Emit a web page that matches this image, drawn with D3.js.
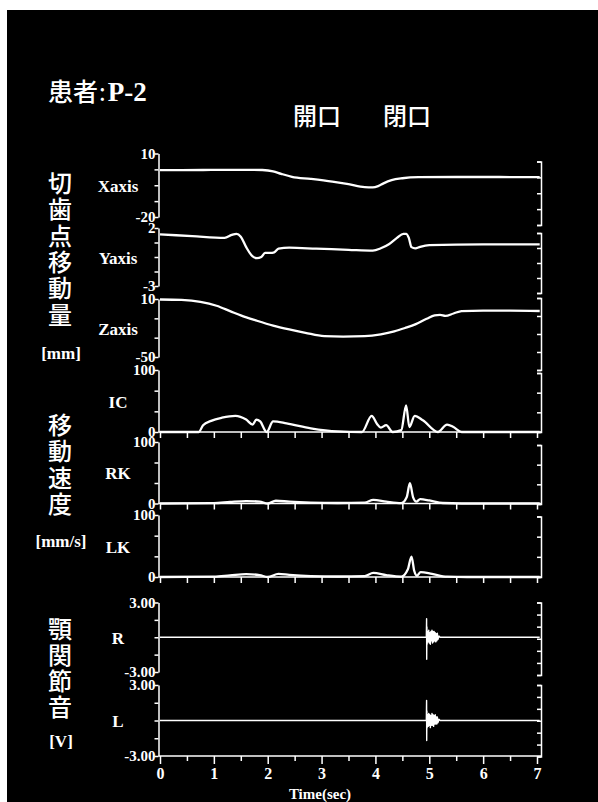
<!DOCTYPE html>
<html>
<head>
<meta charset="utf-8">
<script src="https://cdn.jsdelivr.net/npm/d3@7/dist/d3.min.js"></script>
<style>
  html, body { margin: 0; padding: 0; background: #fff; }
  svg { display: block; }
</style>
</head>
<body>
<svg id="chart" width="598" height="802"></svg>
<script>
// ---- data: time (s) and value per channel ----
const timeTicks = [0, 1, 2, 3, 4, 5, 6, 7];

// incisal point displacement [mm]
const xaxisT = [0, 0.8, 1.6, 1.9, 2.1, 2.25, 2.45, 2.8, 3.2, 3.5, 3.8, 3.95, 4.05, 4.15, 4.3, 4.5, 4.8, 5.5, 6.3, 7.05];
const xaxisV = [2.1, 2.2, 2.3, 2.2, 1.6, 0.4, -1.0, -2.0, -3.3, -4.5, -5.9, -6.0, -5.4, -4.1, -2.6, -1.7, -1.2, -1.1, -1.1, -1.2];

const yaxisT = [0, 0.6, 1.2, 1.33, 1.42, 1.5, 1.6, 1.72, 1.8, 1.88, 1.95, 2.05, 2.12, 2.2, 2.4, 2.9, 3.5, 3.95, 4.1, 4.25, 4.4, 4.52, 4.57, 4.62, 4.67, 4.74, 4.83, 5.0, 6.0, 7.05];
const yaxisV = [1.45, 1.3, 1.15, 1.4, 1.5, 1.25, 0.35, -0.45, -0.6, -0.5, -0.15, -0.15, -0.1, 0.22, 0.3, 0.22, 0.12, 0.05, 0.25, 0.6, 1.15, 1.5, 1.5, 1.15, 0.35, 0.25, 0.38, 0.52, 0.58, 0.58];

const zaxisT = [0, 0.4, 0.75, 1.05, 1.3, 1.5, 1.8, 2.1, 2.4, 2.7, 3.05, 3.4, 3.8, 4.1, 4.35, 4.55, 4.75, 4.95, 5.1, 5.2, 5.3, 5.45, 5.6, 6.0, 6.5, 7.05];
const zaxisV = [9.5, 9.0, 7.0, 3.0, -2.5, -7.0, -12.5, -17.5, -21.5, -25.0, -28.5, -29.0, -28.5, -26.5, -23.5, -20.0, -16.0, -10.5, -7.0, -6.5, -7.5, -5.0, -2.5, -2.0, -2.0, -2.4];

// movement velocity [mm/s]
const icT = [0, 0.72, 0.8, 0.95, 1.15, 1.4, 1.6, 1.72, 1.79, 1.86, 1.98, 2.1, 2.35, 2.8, 3.3, 3.75, 3.93, 4.03, 4.1, 4.2, 4.32, 4.48, 4.57, 4.63, 4.73, 4.88, 5.16, 5.33, 5.45, 5.6, 7.05];
const icV = [0, 0, 11, 18, 23, 26, 20, 12, 20, 17, 0, 17, 14, 6, 1, 0, 26, 13, 7, 11, 0, 3, 43, 8, 26, 19, 0, 12, 8, 0, 0];

const rkT = [0, 1.0, 1.3, 1.6, 1.85, 2.0, 2.15, 2.4, 2.8, 3.3, 3.8, 3.96, 4.2, 4.48, 4.58, 4.64, 4.7, 4.76, 4.83, 5.0, 5.25, 5.6, 7.05];
const rkV = [0, 0.5, 2.5, 4, 3, 0, 4.5, 3, 1.5, 0.8, 1.5, 6, 3, 0.5, 10, 33, 10, 3, 7, 5, 0.8, 0, 0];

const lkT = [0, 1.0, 1.3, 1.6, 1.85, 2.0, 2.2, 2.4, 2.8, 3.3, 3.8, 3.96, 4.2, 4.48, 4.6, 4.67, 4.72, 4.77, 4.84, 5.05, 5.33, 5.7, 7.05];
const lkV = [0, 0.5, 2.5, 4.5, 3, 0, 5, 3.5, 1.5, 0.8, 1.5, 6.5, 3, 0.5, 12, 33, 10, 2, 8, 5, 0.5, 0, 0];

// TMJ sound [V]
const soundRT = [0, 4.945, 4.95, 4.952, 4.956, 4.96, 4.97, 4.98, 4.99, 5.0, 5.01, 5.02, 5.03, 5.04, 5.05, 5.06, 5.07, 5.08, 5.09, 5.1, 5.11, 5.12, 5.13, 5.14, 5.15, 5.16, 5.18, 5.2, 7.05];
const soundRV = [0, 0, 1.6, -1.9, 0.9, -0.6, 0.5, -0.4, 0.6, -0.5, 0.4, -0.6, 0.5, -0.3, 0.6, -0.5, 0.5, -0.4, 0.5, -0.3, 0.4, -0.4, 0.3, -0.3, 0.35, -0.2, 0.1, 0, 0];
const soundLT = [0, 4.945, 4.95, 4.952, 4.956, 4.96, 4.97, 4.98, 4.99, 5.0, 5.01, 5.02, 5.03, 5.04, 5.05, 5.06, 5.07, 5.08, 5.09, 5.1, 5.11, 5.12, 5.13, 5.14, 5.15, 5.16, 5.18, 5.2, 7.05];
const soundLV = [0, 0, 1.7, -1.7, 0.8, -0.6, 0.5, -0.5, 0.6, -0.4, 0.5, -0.6, 0.4, -0.4, 0.6, -0.4, 0.5, -0.5, 0.4, -0.3, 0.5, -0.3, 0.3, -0.3, 0.3, -0.2, 0.1, 0, 0];

// channel names and value ranges (top, bottom)
const channelNames = ["Xaxis", "Yaxis", "Zaxis", "IC", "RK", "LK", "R", "L"];
const channelRanges = [[10, -20], [2, -3], [10, -50], [100, 0], [100, 0], [100, 0], [3, -3], [3, -3]];
const channelTickCounts = [4, 4, 3, 3, 3, 3, 4, 4];
const channelSeries = [[xaxisT, xaxisV], [yaxisT, yaxisV], [zaxisT, zaxisV], [icT, icV], [rkT, rkV], [lkT, lkV], [soundRT, soundRV], [soundLT, soundLV]];

const groupLabels = [
  { chars: ["切", "歯", "点", "移", "動", "量"], unit: "[mm]" },
  { chars: ["移", "動", "速", "度"], unit: "[mm/s]" },
  { chars: ["顎", "関", "節", "音"], unit: "[V]" }
];

// ---- layout ----
const W = 598, H = 802;
const serif = "'Liberation Serif', 'Times New Roman', serif";
const cjk = "'Noto Sans CJK JP', 'Noto Sans CJK SC', sans-serif";
const axisX = 158.5, rightX = 541;

// plain hyphen for negative numbers
const hy = f => v => f(v).replace("\u2212", "-");

// panel frames: left scale extent, right bracket extent, whether a time baseline is drawn
const frames = [
  { top: 153.5, bottom: 217,   rTop: 161.5, rBottom: 225,   rTicks: 4, base: false, fmt: hy(d3.format("d")) },
  { top: 228,   bottom: 286,   rTop: 233,   rBottom: 293,   rTicks: 4, base: false, fmt: hy(d3.format("d")) },
  { top: 299,   bottom: 357,   rTop: 298,   rBottom: 370,   rTicks: 4, base: false, fmt: hy(d3.format("d")) },
  { top: 370,   bottom: 432,   rTop: 373,   rBottom: 432,   rTicks: 3, base: true,  fmt: hy(d3.format("d")) },
  { top: 442,   bottom: 503.5, rTop: 445,   rBottom: 504,   rTicks: 3, base: true,  fmt: hy(d3.format("d")) },
  { top: 515,   bottom: 577,   rTop: 516.5, rBottom: 577,   rTicks: 3, base: true,  fmt: hy(d3.format("d")) },
  { top: 602.5, bottom: 672,   rTop: 602.5, rBottom: 675,   rTicks: 6, base: false, fmt: hy(d3.format(".2f")) },
  { top: 685,   bottom: 756,   rTop: 685,   rBottom: 756.5, rTicks: 6, base: true,  fmt: hy(d3.format(".2f")) }
];

const svg = d3.select("#chart");

// page: white margin at top/left, black plotting sheet
svg.append("rect").attr("width", W).attr("height", H).attr("fill", "#fff");
svg.append("rect").attr("x", 7).attr("y", 10).attr("width", W - 7).attr("height", H - 10).attr("fill", "#000");

const x = d3.scaleLinear().domain([0, 7]).range([160, 537]);

const g = svg.append("g");

frames.forEach((f, i) => {
  const dom = channelRanges[i];
  const y = d3.scaleLinear().domain(dom).range([f.top, f.bottom]);
  const n = channelTickCounts[i];
  const step = (dom[0] - dom[1]) / n;
  const tickVals = d3.range(n + 1).map(k => dom[0] - k * step);

  // left axis
  const left = g.append("g").attr("transform", `translate(${axisX},0)`)
    .call(d3.axisLeft(y).tickValues(tickVals).tickSize(4).tickSizeOuter(0)
      .tickFormat(v => (v === dom[0] || v === dom[1]) ? f.fmt(v) : ""));
  left.select(".domain").attr("stroke", "#fff").attr("stroke-width", 1.5);
  left.selectAll(".tick line").attr("stroke", "#fff").attr("stroke-width", 1.5);
  left.selectAll(".tick text")
    .attr("fill", "#fff").attr("font-family", serif).attr("font-weight", "bold")
    .attr("font-size", 15).attr("x", -3);

  // right bracket axis
  const yr = d3.scaleLinear().domain([0, f.rTicks]).range([f.rTop, f.rBottom]);
  const right = g.append("g").attr("transform", `translate(${rightX},0)`)
    .call(d3.axisLeft(yr).ticks(f.rTicks).tickSize(4).tickSizeOuter(4).tickFormat(""));
  right.select(".domain").attr("stroke", "#fff").attr("stroke-width", 1.5).attr("fill", "none");
  right.selectAll(".tick line").attr("stroke", "#fff").attr("stroke-width", 1.5);

  // time baseline with half-second ticks
  if (f.base) {
    const last = i === frames.length - 1;
    const halfTicks = d3.range(0, 7.01, 0.5);
    const bx = g.append("g").attr("transform", `translate(0,${f.bottom})`)
      .call(d3.axisBottom(x).tickValues(halfTicks).tickSizeOuter(0)
        .tickSize(last ? 8 : 6)
        .tickFormat(v => (last && timeTicks.includes(v)) ? String(v) : ""));
    bx.select(".domain").attr("stroke", "#fff").attr("stroke-width", 1.5)
      .attr("d", `M${axisX},0H${rightX}`);
    bx.selectAll(".tick line").attr("stroke", "#fff").attr("stroke-width", 1.5)
      .attr("y2", v => (last && !Number.isInteger(v)) ? 5 : (last ? 8 : 6));
    bx.selectAll(".tick text")
      .attr("fill", "#fff").attr("font-family", serif).attr("font-weight", "bold")
      .attr("font-size", 16).attr("y", 12);
  }

  // channel name
  g.append("text")
    .attr("x", 118).attr("y", (f.top + f.bottom) / 2 + 1)
    .attr("text-anchor", "middle").attr("dominant-baseline", "central")
    .attr("fill", "#fff").attr("font-family", serif).attr("font-weight", "bold")
    .attr("font-size", 17).text(channelNames[i]);

  // trace
  const [ts, vs] = channelSeries[i];
  const pts = ts.map((t, k) => [t, vs[k]]);
  const isSound = i >= 6;
  const line = d3.line().x(d => x(d[0])).y(d => y(d[1]))
    .curve(isSound ? d3.curveLinear : d3.curveMonotoneX);
  g.append("path").datum(pts)
    .attr("d", line)
    .attr("fill", "none").attr("stroke", "#fff")
    .attr("stroke-width", isSound ? 1.4 : 2.3)
    .attr("stroke-linejoin", "round");
});

// time axis title
g.append("text").attr("x", 320).attr("y", 799)
  .attr("text-anchor", "middle").attr("fill", "#fff")
  .attr("font-family", serif).attr("font-weight", "bold").attr("font-size", 15)
  .text("Time(sec)");

// heading
const head = g.append("text").attr("x", 48).attr("y", 101).attr("fill", "#fff");
head.append("tspan").attr("font-family", cjk).attr("font-weight", 500).attr("font-size", 25).text("患者");
head.append("tspan").attr("font-family", cjk).attr("font-size", 24).attr("dx", 1).text(":");
head.append("tspan").attr("font-family", serif).attr("font-weight", "bold").attr("font-size", 27).attr("dx", 2).text("P-2");

// phase labels
const phaseLabels = ["開口", "閉口"];
const phaseX = [293, 383];
phaseLabels.forEach((s, k) => {
  g.append("text").attr("x", phaseX[k]).attr("y", 114)
    .attr("dominant-baseline", "central").attr("fill", "#fff")
    .attr("font-family", cjk).attr("font-weight", 500).attr("font-size", 24)
    .text(s);
});

// vertical group labels
const groupTop = [181.5, 423.5, 627];
const unitY = [353, 541.5, 741.5];
groupLabels.forEach((gl, k) => {
  gl.chars.forEach((c, j) => {
    g.append("text").attr("x", 60).attr("y", groupTop[k] + j * 26.3)
      .attr("text-anchor", "middle").attr("dominant-baseline", "central")
      .attr("fill", "#fff").attr("font-family", cjk).attr("font-weight", 500).attr("font-size", 24)
      .text(c);
  });
  g.append("text").attr("x", 61).attr("y", unitY[k])
    .attr("text-anchor", "middle").attr("dominant-baseline", "central")
    .attr("fill", "#fff").attr("font-family", serif).attr("font-weight", "bold")
    .attr("font-size", 17).text(gl.unit);
});
</script>
</body>
</html>
